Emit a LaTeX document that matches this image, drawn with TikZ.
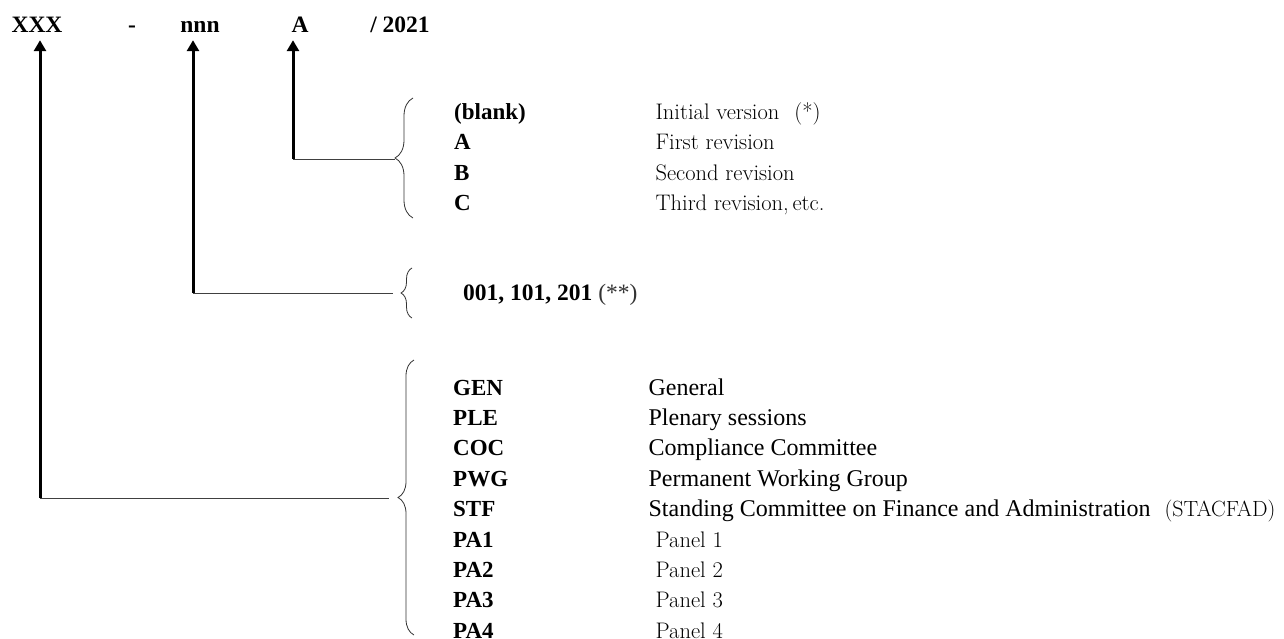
\documentclass[tikz,border=0pt]{standalone}
\usepackage{fontspec}
\newfontfamily\tms{Liberation Serif}
\usetikzlibrary{arrows.meta, decorations.pathreplacing, positioning}

\tikzset{
	token/.style={font=\tms\bfseries\fontsize{23.5}{28}\selectfont, anchor=base, inner sep=8pt},
	revcode/.style={font=\tms\bfseries\fontsize{23}{27}\selectfont, text width=201pt, inner sep=0pt, text height=16pt, text depth=5pt},
	revdesc/.style={font=\fontsize{22.5}{27}\selectfont\addfontfeatures{FakeBold=0.6}, inner sep=0pt, text height=16pt, text depth=5pt},
	comcode/.style={font=\tms\bfseries\fontsize{23}{27}\selectfont, text width=195pt, inner sep=0pt, text height=16pt, text depth=5pt},
	comdesc/.style={font=\tms\fontsize{24}{28}\selectfont, inner sep=0pt, text height=16pt, text depth=5pt},
	uparrow/.style={line width=3pt, -{Triangle[width=12pt,length=11pt]}},
	link/.style={line width=0.9pt, black!75},
	bracket/.style={line width=0.8pt, black!80, decorate}
}

\begin{document}
\begin{tikzpicture}[x=1pt, y=-1pt, node distance=9pt]
	\useasboundingbox (0,0) rectangle (1284,638);
	% reference number
	\node[token] (xxx) at (37,32) {XXX};
	\node[token] (dash) at (132,32) {-};
	\node[token] (nnn) at (200,32) {nnn};
	\node[token] (rev) at (300,32) {A};
	\node[token] (year) at (400,32) {/ 2021};
	% revision letter
	\coordinate (revcorner) at (293,159);
	\coordinate (revtip) at (395,159);
	\draw[bracket, decoration={brace, amplitude=18pt}] (413,218) -- (413,98);
	\node[revcode, anchor=base west] (blank) at (454,119.5) {(blank)};
		\node[revdesc, right=0pt of blank] (blankd) {Initial version\hspace{15pt}(*)};
	\node[revcode, below=of blank] (a) {A};
		\node[revdesc, right=0pt of a] (ad) {First revision};
	\node[revcode, below=of a] (b) {B};
		\node[revdesc, right=0pt of b] (bd) {Second revision};
	\node[revcode, below=of b] (c) {C};
		\node[revdesc, right=0pt of c] (cd) {Third revision,\,etc.};
	\draw[uparrow] (revcorner) -- (revcorner |- rev.south);
	\draw[link] (revcorner) -- (revtip);
	% serial number
	\coordinate (nnncorner) at (193,293);
	\coordinate (nnntip) at (393,293);
	\draw[bracket, decoration={brace, amplitude=11pt}] (412,318) -- (412,268);
	\node[font=\tms\bfseries\fontsize{23.5}{28}\selectfont, anchor=base west, inner sep=0pt] (serial) at (463,300.5) {001, 101, 201 {\mdseries\color{black!80}(**)}};
	\draw[uparrow] (nnncorner) -- (nnncorner |- nnn.south);
	\draw[link] (nnncorner) -- (nnntip);
	% body
	\coordinate (xxxcorner) at (40,498);
	\coordinate (xxxtip) at (389,498);
	\draw[bracket, decoration={brace, amplitude=16pt}] (414,635) -- (414,360);
	\node[comcode, anchor=base west] (gen) at (453,395) {GEN};
		\node[comdesc, right=0pt of gen] (gend) {General};
	\node[comcode, below=of gen] (ple) {PLE};
		\node[comdesc, right=0pt of ple] (pled) {Plenary sessions};
	\node[comcode, below=of ple] (coc) {COC};
		\node[comdesc, right=0pt of coc] (cocd) {Compliance Committee};
	\node[comcode, below=of coc] (pwg) {PWG};
		\node[comdesc, right=0pt of pwg] (pwgd) {Permanent Working Group};
	\node[comcode, below=of pwg] (stf) {STF};
		\node[comdesc, right=0pt of stf] (stfd) {Standing Committee on Finance and Administration\hspace{14pt}{\rmfamily\fontsize{22}{26}\selectfont\addfontfeatures{FakeBold=0.6}(STACFAD)}};
	\node[comcode, below=of stf] (pa1) {PA1};
		\node[revdesc, right=7pt of pa1] (pa1d) {Panel 1};
	\node[comcode, below=of pa1] (pa2) {PA2};
		\node[revdesc, right=7pt of pa2] (pa2d) {Panel 2};
	\node[comcode, below=of pa2] (pa3) {PA3};
		\node[revdesc, right=7pt of pa3] (pa3d) {Panel 3};
	\node[comcode, below=of pa3] (pa4) {PA4};
		\node[revdesc, right=7pt of pa4] (pa4d) {Panel 4};
	\draw[uparrow] (xxxcorner) -- (xxxcorner |- xxx.south);
	\draw[link] (xxxcorner) -- (xxxtip);
\end{tikzpicture}
\end{document}
